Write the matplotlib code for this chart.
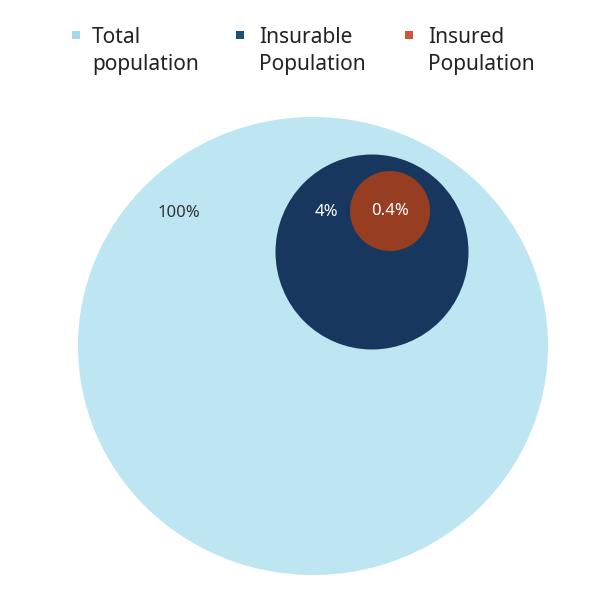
import matplotlib
matplotlib.use("Agg")
import matplotlib.pyplot as plt
from matplotlib.patches import Ellipse, Rectangle

# ── data ──────────────────────────────────────────────────────────────────────
series      = ["Total\npopulation", "Insurable\nPopulation", "Insured\nPopulation"]
pct_labels  = ["100%", "4%", "0.4%"]
fill_colors = ["#bde5f2", "#17375e", "#973d21"]
key_colors  = ["#a8d8ee", "#1f4e79", "#d0533f"]
text_colors = ["#333333", "#ffffff", "#ffffff"]

# ── layout (pixel space, y down) ──────────────────────────────────────────────
centers  = [(313, 346), (372, 252), (390, 211)]
sizes    = [(470, 458), (193, 195), (80, 80)]      # drawn width, height
label_xy = [(179, 213), (326, 212), (390, 211)]
key_x    = [72, 236, 405]
text_x   = [92, 259, 428]

plt.rcParams["font.family"] = ["Noto Sans", "DejaVu Sans"]

fig = plt.figure(figsize=(6.16, 6.16), dpi=100)
ax = fig.add_axes([0, 0, 1, 1])
ax.set_xlim(0, 616)
ax.set_ylim(616, 0)
ax.set_aspect("equal")
ax.axis("off")

for (cx, cy), (w, h), c in zip(centers, sizes, fill_colors):
    ax.add_patch(Ellipse((cx, cy), w, h, facecolor=c, edgecolor="none"))

for (lx, ly), txt, tc in zip(label_xy, pct_labels, text_colors):
    ax.text(lx, ly, txt, ha="center", va="center", fontsize=12, color=tc)

# legend
for kx, tx, lab, kc in zip(key_x, text_x, series, key_colors):
    ax.add_patch(Rectangle((kx, 31), 8, 8, facecolor=kc, edgecolor="none"))
    ax.text(tx, 27, lab, ha="left", va="top", fontsize=15, color="#222222",
            linespacing=1.35)

fig.savefig("out.png", dpi=100)
